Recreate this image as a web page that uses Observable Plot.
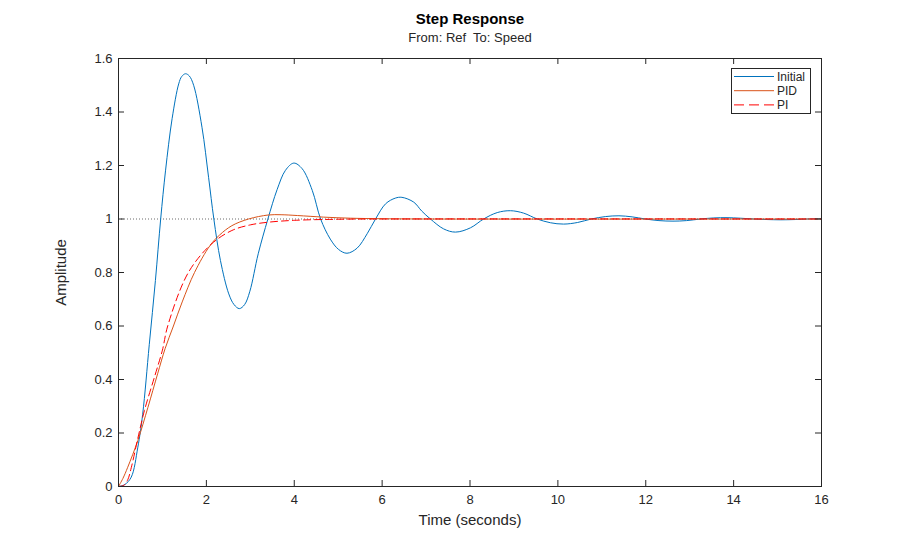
<!DOCTYPE html>
<html><head><meta charset="utf-8">
<script src="https://cdn.jsdelivr.net/npm/d3@7"></script>
<script src="https://cdn.jsdelivr.net/npm/@observablehq/plot@0.6"></script>
<style>
body{margin:0;background:#fff;font-family:"Liberation Sans",Arial,Helvetica,sans-serif;}
#wrap{position:relative;width:908px;height:546px;}
#legend{position:absolute;left:731px;top:68px;}
</style></head><body><div id="wrap"></div>
<script>
// ---- data ----
const xTicks = [0, 2, 4, 6, 8, 10, 12, 14, 16];
const yTicks = [0, 0.2, 0.4, 0.6, 0.8, 1, 1.2, 1.4, 1.6];
const seriesNames = ["Initial", "PID", "PI"];
const seriesColors = ["#0072BD", "#D95319", "#FF0000"];
const seriesDash = [null, null, "7,4"];
const legendDash = [null, null, "10,5"];

const initialT = [0,0.14,0.29,0.44,0.55,0.70,0.84,0.96,1.07,1.22,1.37,1.44,1.525,1.61,1.71,1.90,2.05,2.17,2.32,2.51,2.63,2.75,2.87,2.99,3.18,3.40,3.61,3.80,3.99,4.18,4.41,4.60,4.82,5.01,5.20,5.43,5.66,5.85,6.08,6.30,6.45,6.72,6.90,7.10,7.40,7.67,8.01,8.31,8.62,8.92,9.22,9.53,9.83,10.13,10.45,10.76,11.08,11.39,11.69,11.99,12.30,12.62,12.93,13.25,13.55,13.85,14.15,14.46,14.76,15.06,15.40,15.68,16];
const initialY = [0,0.007,0.035,0.147,0.27,0.53,0.77,1.0,1.18,1.375,1.505,1.533,1.543,1.535,1.5,1.343,1.156,1.0,0.845,0.72,0.68,0.665,0.68,0.73,0.87,1.0,1.11,1.182,1.209,1.188,1.107,1.0,0.925,0.886,0.872,0.891,0.945,1.0,1.057,1.078,1.081,1.063,1.03,1.0,0.963,0.951,0.967,1.0,1.024,1.031,1.022,1.0,0.986,0.981,0.987,1.0,1.009,1.012,1.008,1.0,0.994,0.992,0.994,1.0,1.004,1.005,1.003,1.0,0.998,0.997,0.998,1.0,1.001];

const pidT = [0,0.10,0.21,0.44,0.67,0.89,1.06,1.25,1.45,1.73,2.08,2.30,2.58,2.96,3.41,3.70,4.07,4.67,5.28,6.0,7.0,16];
const pidY = [0,0.03,0.072,0.172,0.296,0.421,0.515,0.60,0.69,0.80,0.90,0.94,0.975,1.0,1.015,1.016,1.013,1.007,1.003,1.001,1.0,1.0];

const piT = [0,0.12,0.21,0.29,0.44,0.59,0.82,1.0,1.12,1.59,2.12,2.58,3.0,3.41,4.0,5.0,6.0,16];
const piY = [0,0.004,0.025,0.07,0.18,0.284,0.41,0.51,0.60,0.80,0.907,0.957,0.978,0.988,0.995,0.999,1.0,1.0];

const steadyState = [1];

// ---- build tables ----
const table = (ts, ys) => ts.map((t, i) => ({t, y: ys[i]}));
const series = [table(initialT, initialY), table(pidT, pidY), table(piT, piY)];

const W = 908, H = 546, mL = 118, mR = 87, mT = 58, mB = 60;
const pw = W - mL - mR, ph = H - mT - mB;
const ink = "#262626";
const tickLen = 6;

const chart = Plot.plot({
  width: W, height: H,
  marginLeft: mL, marginRight: mR, marginTop: mT, marginBottom: mB,
  style: {fontFamily: '"Liberation Sans", Arial, Helvetica, sans-serif', color: ink, background: "#fff"},
  x: {domain: [0, 16]},
  y: {domain: [0, 1.6]},
  marks: [
    Plot.ruleY(steadyState, {stroke: "#444", strokeDasharray: "1,2", strokeWidth: 0.8}),
    ...series.map((d, i) => Plot.line(d, {x: "t", y: "y", curve: "catmull-rom",
      stroke: seriesColors[i], strokeWidth: 1, strokeDasharray: seriesDash[i]})),
    Plot.frame({stroke: ink, strokeWidth: 1}),
    // inward ticks on all four sides
    Plot.tickX(xTicks, {x: d => d, stroke: ink, insetTop: ph - tickLen}),
    Plot.tickX(xTicks, {x: d => d, stroke: ink, insetBottom: ph - tickLen}),
    Plot.tickY(yTicks, {y: d => d, stroke: ink, insetRight: pw - tickLen}),
    Plot.tickY(yTicks, {y: d => d, stroke: ink, insetLeft: pw - tickLen}),
    Plot.axisX(xTicks, {tickSize: 0, tickPadding: 8, fontSize: 13, label: null, fill: ink}),
    Plot.axisY(yTicks, {tickSize: 0, tickPadding: 6, fontSize: 13, label: null, fill: ink, tickFormat: d => String(+d.toFixed(1))}),
    Plot.text(["Time (seconds)"], {frameAnchor: "bottom", dy: 34, lineAnchor: "middle", fontSize: 15, fill: ink}),
    Plot.text(["Amplitude"], {frameAnchor: "left", dx: -57, rotate: -90, textAnchor: "middle", lineAnchor: "middle", fontSize: 15, fill: ink}),
    Plot.text(["Step Response"], {frameAnchor: "top", dy: -39, lineAnchor: "middle", fontSize: 15, fontWeight: "bold", fill: "#000"}),
    Plot.text(["From: Ref  To: Speed"], {frameAnchor: "top", dy: -21, lineAnchor: "middle", fontSize: 13, fill: ink})
  ]
});
// keep double space in subtitle
d3.select(chart).selectAll("text").attr("xml:space", "preserve").style("white-space", "pre");
document.getElementById("wrap").appendChild(chart);

// ---- legend ----
const lg = d3.select("#wrap").append("svg").attr("id", "legend")
  .attr("width", 81).attr("height", 47);
lg.append("rect").attr("x", 0.5).attr("y", 0.5).attr("width", 79).attr("height", 45)
  .attr("fill", "#fff").attr("stroke", ink);
seriesNames.forEach((name, i) => {
  const y = 8.5 + i * 14.2;
  lg.append("line").attr("x1", 3).attr("x2", 43).attr("y1", y).attr("y2", y)
    .attr("stroke", seriesColors[i]).attr("stroke-width", 1)
    .attr("stroke-dasharray", legendDash[i]);
  lg.append("text").attr("x", 46).attr("y", y).attr("dy", "0.35em")
    .attr("font-size", 12).attr("fill", ink)
    .attr("font-family", '"Liberation Sans", Arial, sans-serif').text(name);
});
</script></body></html>
